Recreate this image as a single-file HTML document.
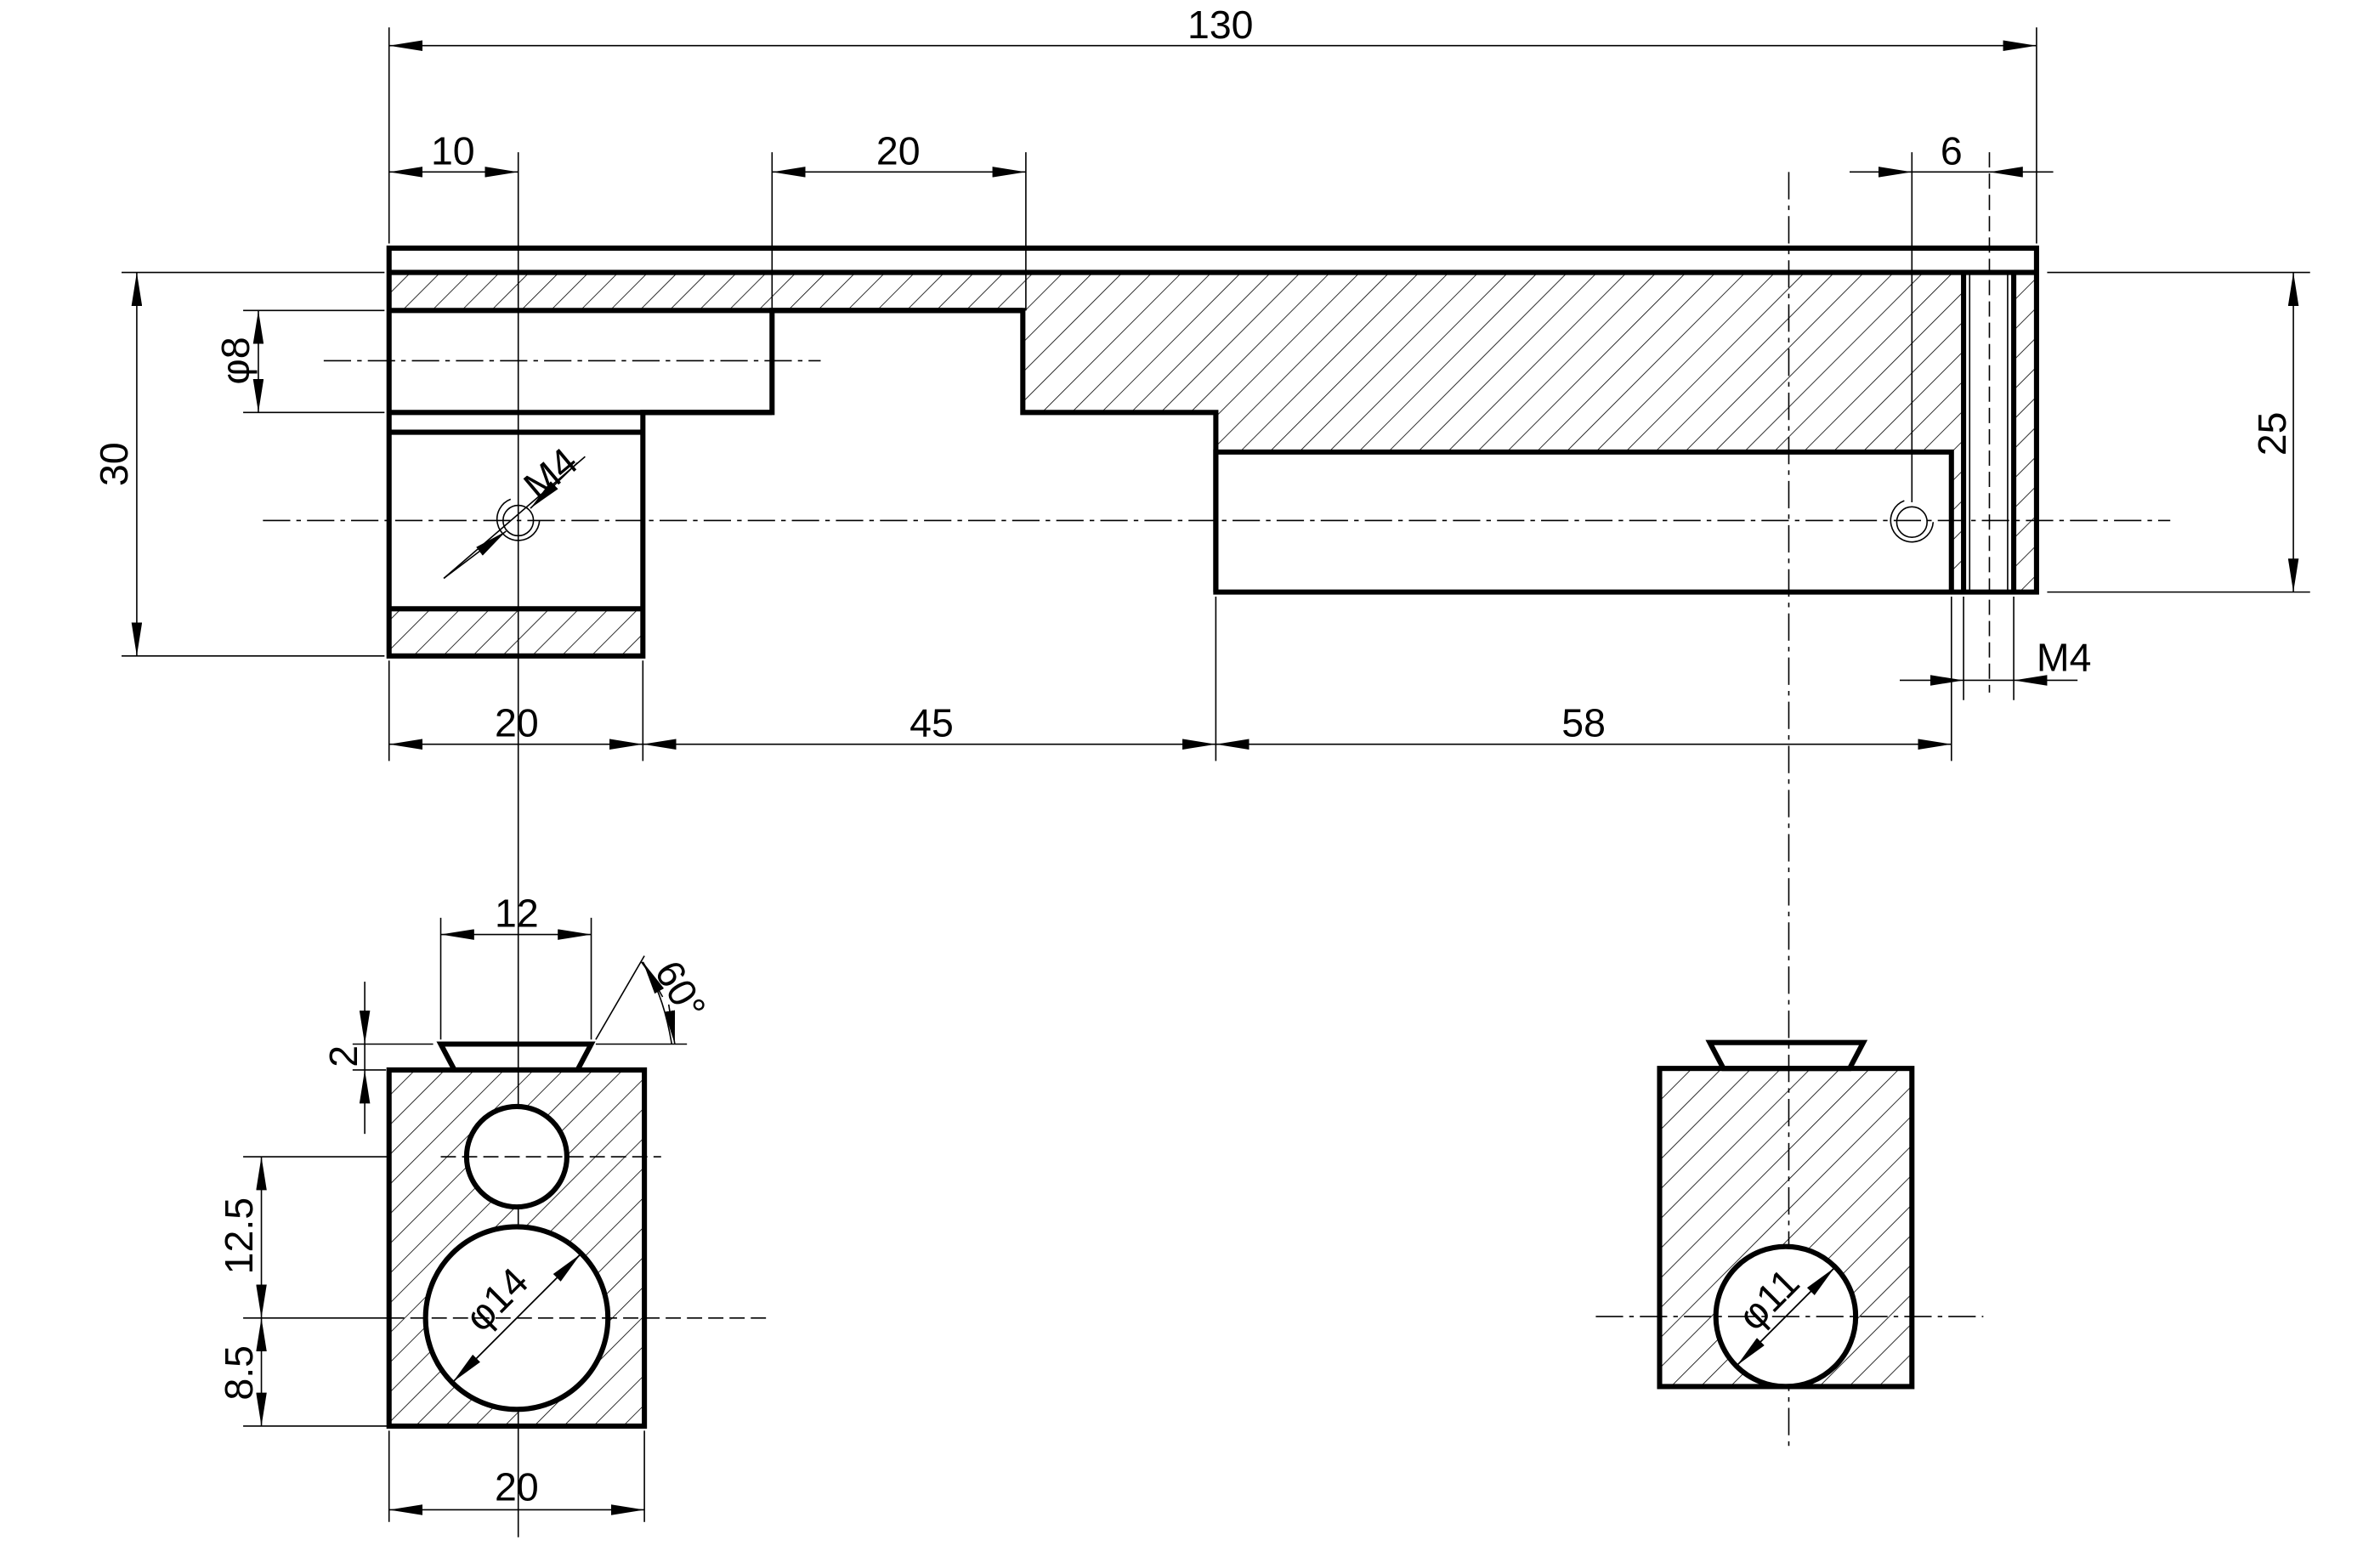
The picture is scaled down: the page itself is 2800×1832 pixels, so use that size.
<!DOCTYPE html>
<html><head><meta charset="utf-8"><style>
html,body{margin:0;padding:0;background:#fff;}
svg{display:block;}
text{font-family:"Liberation Sans",sans-serif;font-size:26px;fill:#000;font-weight:normal;}
</style></head><body>
<svg width="2800" height="1832" viewBox="0 0 1566 1023" preserveAspectRatio="none" xmlns="http://www.w3.org/2000/svg">
<defs>
<pattern id="h" width="13.8" height="13.8" patternUnits="userSpaceOnUse" patternTransform="rotate(45)">
<line x1="0" y1="0" x2="0" y2="13.8" stroke="#000" stroke-width="0.9"/>
</pattern>
<marker id="a" markerUnits="userSpaceOnUse" viewBox="0 0 22 7" refX="22" refY="3.5" markerWidth="22" markerHeight="7" orient="auto-start-reverse">
<path d="M0,0 L22,3.5 L0,7 z" fill="#000"/>
</marker>
</defs>

<g fill="url(#h)" stroke="none">
<polygon points="256,179 1292,179 1292,389 1284,389 1284,297 800,297 800,271 673,271 673,204 256,204"/>
<rect x="1325" y="179" width="15" height="210"/>
<rect x="256" y="400" width="167" height="31"/>
</g>

<g stroke="#000" stroke-width="0.9" fill="none">
<line x1="173" y1="342" x2="1428" y2="342" stroke-dasharray="18,4,3,4"/>
<line x1="213" y1="237" x2="540" y2="237" stroke-dasharray="18,4,3,4"/>
<line x1="341" y1="100" x2="341" y2="1010"/>
<line x1="1177" y1="113" x2="1177" y2="950" stroke-dasharray="18,4,3,4"/>
<line x1="1309" y1="100" x2="1309" y2="455" stroke-dasharray="10,4"/>
<line x1="1296" y1="179" x2="1296" y2="389"/>
<line x1="1321" y1="179" x2="1321" y2="389"/>
<line x1="256" y1="18" x2="256" y2="160"/><line x1="1340" y1="18" x2="1340" y2="160"/>
<line x1="256" y1="30" x2="1340" y2="30" marker-start="url(#a)" marker-end="url(#a)"/>
<line x1="256" y1="113" x2="341" y2="113" marker-start="url(#a)" marker-end="url(#a)"/>
<line x1="508" y1="100" x2="508" y2="204"/><line x1="675" y1="100" x2="675" y2="204"/>
<line x1="508" y1="113" x2="675" y2="113" marker-start="url(#a)" marker-end="url(#a)"/>
<line x1="1258" y1="100" x2="1258" y2="330"/>
<line x1="1217" y1="113" x2="1258" y2="113" marker-end="url(#a)"/>
<line x1="1351" y1="113" x2="1309" y2="113" marker-end="url(#a)"/>
<line x1="1258" y1="113" x2="1309" y2="113"/>
<line x1="80" y1="179" x2="253" y2="179"/><line x1="80" y1="431" x2="253" y2="431"/>
<line x1="90" y1="179" x2="90" y2="431" marker-start="url(#a)" marker-end="url(#a)"/>
<line x1="160" y1="204" x2="253" y2="204"/><line x1="160" y1="271" x2="253" y2="271"/>
<line x1="170" y1="204" x2="170" y2="271" marker-start="url(#a)" marker-end="url(#a)"/>
<line x1="1347" y1="179" x2="1520" y2="179"/><line x1="1347" y1="389" x2="1520" y2="389"/>
<line x1="1509" y1="179" x2="1509" y2="389" marker-start="url(#a)" marker-end="url(#a)"/>
<line x1="256" y1="434" x2="256" y2="500"/><line x1="423" y1="434" x2="423" y2="500"/>
<line x1="800" y1="392" x2="800" y2="500"/><line x1="1284" y1="392" x2="1284" y2="500"/>
<line x1="256" y1="489" x2="423" y2="489" marker-start="url(#a)" marker-end="url(#a)"/>
<line x1="423" y1="489" x2="800" y2="489" marker-start="url(#a)" marker-end="url(#a)"/>
<line x1="800" y1="489" x2="1284" y2="489" marker-start="url(#a)" marker-end="url(#a)"/>
<line x1="1292" y1="392" x2="1292" y2="460"/><line x1="1325" y1="392" x2="1325" y2="460"/>
<line x1="1250" y1="447" x2="1292" y2="447" marker-end="url(#a)"/>
<line x1="1367" y1="447" x2="1325" y2="447" marker-end="url(#a)"/>
<line x1="1292" y1="447" x2="1325" y2="447"/>
<circle cx="341" cy="342" r="10"/>
<path d="M336,328 A14,14 0 1,0 355,342"/>
<circle cx="1258" cy="343" r="10"/>
<path d="M1253,329 A14,14 0 1,0 1272,343"/>
<line x1="292" y1="380" x2="385" y2="300"/>
<line x1="292" y1="380" x2="333" y2="349" marker-end="url(#a)"/>
<line x1="380" y1="304" x2="349" y2="334" marker-end="url(#a)"/>
</g>

<g stroke="#000" stroke-width="3.4" fill="none" stroke-linejoin="miter">
<polygon points="256,163 1340,163 1340,389 800,389 800,271 673,271 673,204 508,204 508,271 423,271 423,431 256,431"/>
<line x1="256" y1="179" x2="1340" y2="179"/>
<line x1="256" y1="204" x2="673" y2="204"/>
<line x1="256" y1="271" x2="508" y2="271"/>
<line x1="256" y1="284" x2="423" y2="284"/>
<line x1="256" y1="400" x2="423" y2="400"/>
<polyline points="800,389 800,297 1284,297 1284,389"/>
<line x1="1292" y1="179" x2="1292" y2="389"/>
<line x1="1325" y1="179" x2="1325" y2="389"/>
</g>

<rect x="256" y="703" width="168" height="234" fill="url(#h)"/>
<circle cx="340" cy="760" r="33" fill="#fff"/>
<circle cx="340" cy="866" r="60" fill="#fff"/>
<g stroke="#000" stroke-width="0.9" fill="none">
<line x1="290" y1="760" x2="435" y2="760" stroke-dasharray="10,4"/>
<line x1="160" y1="760" x2="256" y2="760"/>
<line x1="160" y1="866" x2="256" y2="866"/>
<line x1="256" y1="866" x2="505" y2="866" stroke-dasharray="10,4"/>
<line x1="160" y1="937" x2="256" y2="937"/>
<line x1="290" y1="603" x2="290" y2="683"/><line x1="389" y1="603" x2="389" y2="683"/>
<line x1="290" y1="614" x2="389" y2="614" marker-start="url(#a)" marker-end="url(#a)"/>
<line x1="232" y1="686" x2="285" y2="686"/><line x1="232" y1="703" x2="254" y2="703"/>
<line x1="240" y1="645" x2="240" y2="686" marker-end="url(#a)"/>
<line x1="240" y1="745" x2="240" y2="703" marker-end="url(#a)"/>
<line x1="240" y1="686" x2="240" y2="703"/>
<line x1="172" y1="760" x2="172" y2="866" marker-start="url(#a)" marker-end="url(#a)"/>
<line x1="172" y1="866" x2="172" y2="937" marker-start="url(#a)" marker-end="url(#a)"/>
<line x1="392" y1="686" x2="452" y2="686"/>
<line x1="392" y1="683" x2="424" y2="628"/>
<path d="M422,632 Q436,650 442,686" />
<line x1="440" y1="660" x2="444" y2="686" marker-end="url(#a)"/>
<line x1="436" y1="655" x2="423" y2="632" marker-end="url(#a)"/>
<line x1="256" y1="940" x2="256" y2="1000"/><line x1="424" y1="940" x2="424" y2="1000"/>
<line x1="256" y1="992" x2="424" y2="992" marker-start="url(#a)" marker-end="url(#a)"/>
<line x1="298" y1="908" x2="382" y2="824"/>
<line x1="340" y1="866" x2="382" y2="824" marker-end="url(#a)"/>
<line x1="340" y1="866" x2="298" y2="908" marker-end="url(#a)"/>
</g>
<g stroke="#000" stroke-width="3.4" fill="none">
<rect x="256" y="703" width="168" height="234"/>
<circle cx="340" cy="760" r="33"/>
<circle cx="340" cy="866" r="60"/>
<polygon points="290,686 389,686 380,703 299,703"/>
</g>

<rect x="1092" y="702" width="166" height="209" fill="url(#h)"/>
<circle cx="1175" cy="865" r="46" fill="#fff"/>
<g stroke="#000" stroke-width="0.9" fill="none">
<line x1="1050" y1="865" x2="1305" y2="865" stroke-dasharray="18,4,3,4"/>
<line x1="1143" y1="897" x2="1207" y2="833"/>
<line x1="1175" y1="865" x2="1207" y2="833" marker-end="url(#a)"/>
<line x1="1175" y1="865" x2="1143" y2="897" marker-end="url(#a)"/>
</g>
<g stroke="#000" stroke-width="3.4" fill="none">
<rect x="1092" y="702" width="166" height="209"/>
<circle cx="1175" cy="865" r="46"/>
<polygon points="1125,685 1226,685 1217,702 1134,702"/>
</g>

<g>
<text x="803" y="25" text-anchor="middle">130</text>
<text x="298" y="108" text-anchor="middle">10</text>
<text x="591" y="108" text-anchor="middle">20</text>
<text x="1284" y="108" text-anchor="middle">6</text>
<text x="340" y="484" text-anchor="middle">20</text>
<text x="613" y="484" text-anchor="middle">45</text>
<text x="1042" y="484" text-anchor="middle">58</text>
<text x="1340" y="441">M4</text>
<text transform="translate(84,305) rotate(-90)" text-anchor="middle">30</text>
<text transform="translate(164,237) rotate(-90)" text-anchor="middle">φ8</text>
<text transform="translate(1504,285) rotate(-90)" text-anchor="middle">25</text>
<text transform="translate(368,318) rotate(-40)" text-anchor="middle">M4</text>
<text x="340" y="609" text-anchor="middle">12</text>
<text transform="translate(440,655) rotate(60)" text-anchor="middle">60°</text>
<text transform="translate(235,694) rotate(-90)" text-anchor="middle">2</text>
<text transform="translate(166,812) rotate(-90)" text-anchor="middle">12.5</text>
<text transform="translate(166,902) rotate(-90)" text-anchor="middle">8.5</text>
<text x="340" y="986" text-anchor="middle">20</text>
<text transform="translate(333,860) rotate(-45)" text-anchor="middle">φ14</text>
<text transform="translate(1170,860) rotate(-45)" text-anchor="middle">φ11</text>
</g>
</svg>
</body></html>
